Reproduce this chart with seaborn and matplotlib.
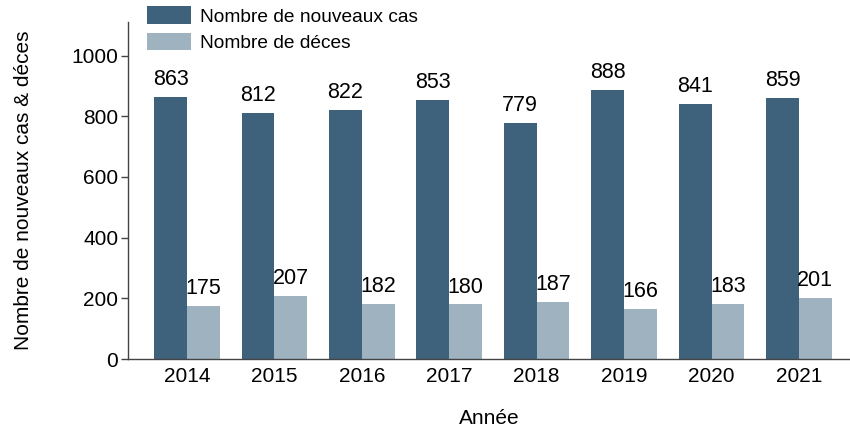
import matplotlib
matplotlib.use("Agg")
import matplotlib.pyplot as plt
import seaborn as sns
import pandas as pd

years = ["2014", "2015", "2016", "2017", "2018", "2019", "2020", "2021"]
new_cases = [863, 812, 822, 853, 779, 888, 841, 859]
deaths = [175, 207, 182, 180, 187, 166, 183, 201]
series_names = ["Nombre de nouveaux cas", "Nombre de déces"]
colors = ["#3e627c", "#9fb2c0"]

df = pd.DataFrame({
    "Année": years * 2,
    "valeur": new_cases + deaths,
    "série": [series_names[0]] * len(years) + [series_names[1]] * len(years),
})

sns.set_theme(style="white")
plt.rcParams["font.family"] = ["Liberation Sans", "DejaVu Sans"]
plt.rcParams["text.color"] = "black"
plt.rcParams["axes.labelcolor"] = "black"
plt.rcParams["xtick.color"] = "black"
plt.rcParams["ytick.color"] = "black"

fig = plt.figure(figsize=(8.5, 4.26), dpi=100)
ax = fig.add_axes([0.1506, 0.157, 0.849, 0.791])
sns.barplot(data=df, x="Année", y="valeur", hue="série", palette=colors,
            width=0.75, saturation=1, linewidth=0, ax=ax, legend=True)

for cont in ax.containers:
    ax.bar_label(cont, padding=5, fontsize=15.5, color="black")

ax.set_ylim(0, 1110)
ax.set_xlim(-0.674, 7.58)
ax.set_yticks([0, 200, 400, 600, 800, 1000])
ax.tick_params(axis="y", labelsize=15, length=5, width=1, color="#444444", left=True, pad=2)
ax.tick_params(axis="x", labelsize=15, length=0, pad=6)
ax.set_xlabel("Année", fontsize=15, labelpad=16)
ax.set_ylabel("Nombre de nouveaux cas & déces", fontsize=15, labelpad=28)
for s in ["top", "right"]:
    ax.spines[s].set_visible(False)
for s in ["left", "bottom"]:
    ax.spines[s].set_color("#444444")
    ax.spines[s].set_linewidth(1)

ax.legend(loc="upper left", bbox_to_anchor=(0.173, 0.985), bbox_transform=fig.transFigure,
          frameon=False, fontsize=13.8, handlelength=2.3, handleheight=1.05,
          handletextpad=0.45, labelspacing=0.35, borderaxespad=0, borderpad=0)

fig.savefig("out.png", dpi=100)
